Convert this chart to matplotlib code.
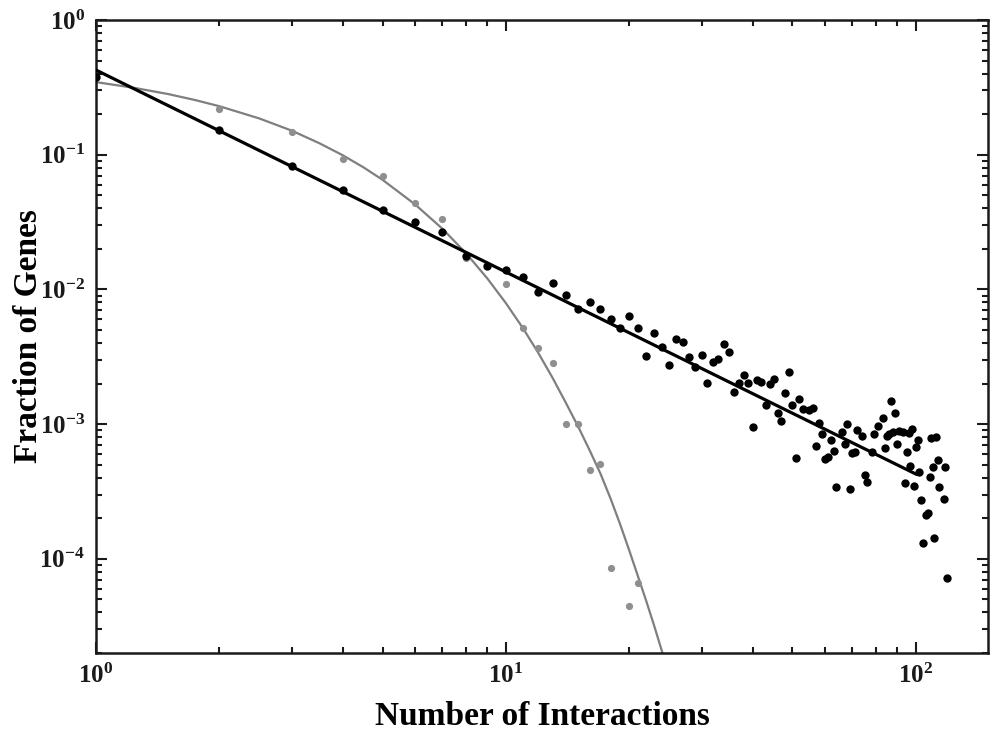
import matplotlib
matplotlib.use("Agg")
import matplotlib.pyplot as plt
from matplotlib.ticker import LogLocator, NullFormatter

# Datenpunkte (Anzahl Interaktionen -> Anteil Gene)
k_black = [1, 2, 3, 4, 5, 6, 7, 8, 9, 10, 11, 12, 13, 14, 15, 16, 17, 18, 19, 20,
           21, 22, 23, 24, 25, 26, 27, 28, 29, 30, 31, 32, 33, 34, 35, 36, 37, 38, 39, 40,
           41, 42, 43, 44, 45, 46, 47, 48, 49, 50, 51, 52, 53, 55, 56, 57, 58, 59, 60, 61,
           62, 63, 64, 66, 67, 68, 69, 70, 71, 72, 74, 75, 76, 78, 79, 81, 83, 84, 85, 86,
           87, 88, 89, 90, 91, 93, 94, 95, 96, 97, 98, 99, 100, 101, 102, 103, 104, 106, 107, 108,
           109, 110, 111, 112, 113, 114, 117, 118, 119]
p_black = [0.377, 0.152, 0.082, 0.055, 0.0386, 0.0314, 0.0269, 0.0178, 0.0148, 0.0140,
           0.0124, 0.0096, 0.0112, 0.0091, 0.0071, 0.0080, 0.0071, 0.0060, 0.0052, 0.0064,
           0.0052, 0.0032, 0.00477, 0.00375, 0.00276, 0.00430, 0.00409, 0.00316, 0.00267, 0.00327,
           0.00203, 0.00290, 0.00306, 0.00395, 0.00345, 0.00174, 0.00203, 0.00232, 0.00203, 0.000953,
           0.00213, 0.00206, 0.00139, 0.00199, 0.00217, 0.00121, 0.00106, 0.00171, 0.00245, 0.00139,
           0.000561, 0.00154, 0.00130, 0.00128, 0.00131, 0.000689, 0.00102, 0.000846, 0.000551, 0.000570,
           0.000763, 0.000632, 0.000341, 0.000875, 0.000713, 0.00100, 0.000330, 0.000610, 0.000620, 0.000906,
           0.000817, 0.000419, 0.000372, 0.000620, 0.000846, 0.000970, 0.00111, 0.000665, 0.000817, 0.000846,
           0.00149, 0.000875, 0.00121, 0.000713, 0.000890, 0.000875, 0.000365, 0.000620, 0.000860, 0.000489,
           0.000921, 0.000347, 0.000676, 0.000763, 0.000441, 0.000273, 0.000131, 0.000211, 0.000218, 0.000405,
           0.000789, 0.000480, 0.000142, 0.000800, 0.000542, 0.000341, 0.000278, 0.000480, 0.0000717]

k_gray = [2, 3, 4, 5, 6, 7, 8, 10, 11, 12, 13, 14, 15, 16, 17, 18, 20, 21]
p_gray = [0.218, 0.147, 0.0924, 0.0691, 0.0435, 0.0336, 0.0172, 0.0109, 0.0052, 0.00369,
          0.00285, 0.00100, 0.00100, 0.000456, 0.000506, 0.000085, 0.0000444, 0.0000658]

# Fit-Kurven
k_powerfit = [1, 100]
p_powerfit = [0.425, 0.000426]

k_expfit = [1, 1.25, 1.5, 1.75, 2, 2.5, 3, 3.5, 4, 4.5, 5, 6, 7, 8, 9, 10, 11, 12, 13,
            14, 15, 16, 17, 18, 19, 20, 21, 22, 23, 24, 25]
p_expfit = [0.346, 0.312, 0.282, 0.254, 0.229, 0.186, 0.151, 0.122, 0.0990, 0.0803, 0.0651,
            0.0428, 0.0282, 0.0185, 0.0121, 0.00790, 0.00516, 0.00337, 0.00220, 0.00144, 0.00096,
            0.00064, 0.00043, 0.000280, 0.000180, 0.000115, 0.000074, 0.0000485, 0.0000318,
            0.0000208, 0.0000137]

plt.rcParams["font.family"] = ["Liberation Serif", "DejaVu Serif"]
plt.rcParams["font.weight"] = "bold"
plt.rcParams["mathtext.fontset"] = "custom"
plt.rcParams["mathtext.rm"] = "Liberation Serif:bold"
plt.rcParams["mathtext.bf"] = "Liberation Serif:bold"

fig = plt.figure(figsize=(9.96, 7.35), dpi=100)
ax = fig.add_axes([0.0964, 0.1116, 0.8956, 0.8612])

ax.plot(k_expfit, p_expfit, color="#7f7f7f", lw=1.6, zorder=2)
ax.plot(k_gray, p_gray, "o", color="#8f8f8f", ms=5.2, mec="none", zorder=3)
ax.plot(k_powerfit, p_powerfit, color="black", lw=2.3, zorder=4)
ax.plot(k_black, p_black, "o", color="black", ms=6, mec="none", zorder=5)

ax.set_xscale("log")
ax.set_yscale("log")
ax.set_xlim(1, 150)
ax.set_ylim(2e-5, 1)

ax.xaxis.set_major_locator(LogLocator(base=10, numticks=10))
ax.yaxis.set_major_locator(LogLocator(base=10, numticks=10))
ax.xaxis.set_minor_locator(LogLocator(base=10, subs=range(2, 10), numticks=10))
ax.yaxis.set_minor_locator(LogLocator(base=10, subs=range(2, 10), numticks=10))
ax.xaxis.set_minor_formatter(NullFormatter())
ax.yaxis.set_minor_formatter(NullFormatter())

ax.tick_params(which="both", direction="in", top=True, right=True, width=1.5,
               labelsize=18, colors="#1a1a1a")
ax.tick_params(which="major", length=8, pad=8)
ax.tick_params(which="minor", length=4)
for s in ax.spines.values():
    s.set_linewidth(1.8)
    s.set_color("#1a1a1a")

ax.set_xlabel("Number of Interactions", fontsize=24, fontweight="bold", labelpad=9)
ax.set_ylabel("Fraction of Genes", fontsize=24, fontweight="bold", labelpad=-3)

plt.savefig("out.png", dpi=100)
plt.close()
